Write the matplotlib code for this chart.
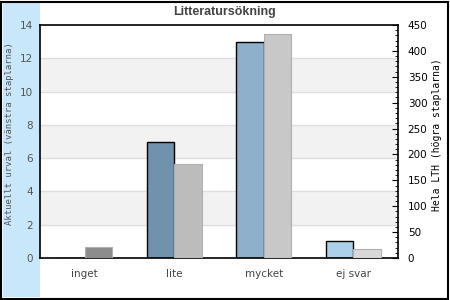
import matplotlib.pyplot as plt
from matplotlib.patches import Rectangle
from matplotlib.ticker import MultipleLocator

categories = ['inget', 'lite', 'mycket', 'ej svar']
urval = [0, 7, 13, 1]           # vänster axel
hela_lth = [22, 182, 433, 17]   # höger axel

urval_colors = ['#5f84a3', '#7092ae', '#8eb0cb', '#acd0ea']
lth_colors = ['#8c8c8c', '#bcbcbc', '#c8c8c8', '#d8d8d8']

W, H = 450, 300
fig = plt.figure(figsize=(W / 100, H / 100), dpi=100)
fig.patch.set_facecolor('white')

# blått fält till vänster och ram runt hela bilden
fig.patches.append(Rectangle((3 / W, 3 / H), 37 / W, 294 / H, transform=fig.transFigure,
                             facecolor='#c8e7fb', edgecolor='none', zorder=-1))
fig.patches.append(Rectangle((1 / W, 1 / H), 447 / W, 297 / H, transform=fig.transFigure,
                             facecolor='none', edgecolor='black', linewidth=1.5, zorder=5))

ax = fig.add_axes([40 / W, 42 / H, 358 / W, 233 / H])
ax.set_zorder(1)
ax.set_facecolor('white')
ax.set_ylim(0, 14)
ax.set_xlim(-0.5, len(categories) - 0.5)
for lo in [2, 6, 10]:
    ax.axhspan(lo, lo + 2, color='#f2f2f2', zorder=0, linewidth=0)
for y in range(2, 14, 2):
    ax.axhline(y, color='#dedede', linewidth=1, zorder=0.5)

w = 0.305
x = list(range(len(categories)))
ax.bar([i - w / 2 for i in x], urval, width=w, color=urval_colors,
       edgecolor='black', linewidth=1, zorder=2)
ax.set_yticks(range(0, 15, 2))
ax.tick_params(axis='y', length=0, pad=5, labelsize=7.5, labelcolor='#555555')
ax.set_xticks(x)
ax.set_xticklabels(categories)
ax.tick_params(axis='x', length=0, pad=8, labelsize=7.5, labelcolor='#444444')
for s in ax.spines.values():
    s.set_color('black')
    s.set_linewidth(1.2)

ax2 = ax.twinx()
ax2.set_zorder(2)
ax2.set_ylim(0, 450)
ax2.bar([i + w / 2 for i in x], hela_lth, width=w, color=lth_colors,
        edgecolor='#b0b0b0', linewidth=0.8, zorder=2)
ax2.yaxis.set_major_locator(MultipleLocator(50))
ax2.yaxis.set_minor_locator(MultipleLocator(10))
ax2.tick_params(axis='y', which='major', direction='in', length=4, width=0.8,
                pad=7, labelsize=7.5, labelcolor='black')
ax2.tick_params(axis='y', which='minor', direction='in', length=2, width=0.6)
for s in ax2.spines.values():
    s.set_visible(False)

# axeltitlar
fig.text(9.5 / W, 1 - 134 / H, 'Aktuellt urval (vänstra staplarna)', rotation=90,
         ha='center', va='center', family='DejaVu Sans Mono', fontsize=6.5, color='#555555')
fig.text(436.5 / W, 1 - 135 / H, 'Hela LTH (högra staplarna)', rotation=90,
         ha='center', va='center', family='DejaVu Sans Mono', fontsize=7, color='black')

fig.text(225 / W, 1 - 12 / H, 'Litteratursökning', ha='center', va='center',
         family='Liberation Sans', fontweight='bold', fontsize=9, color='#444444')

fig.savefig('out.png', dpi=100)
